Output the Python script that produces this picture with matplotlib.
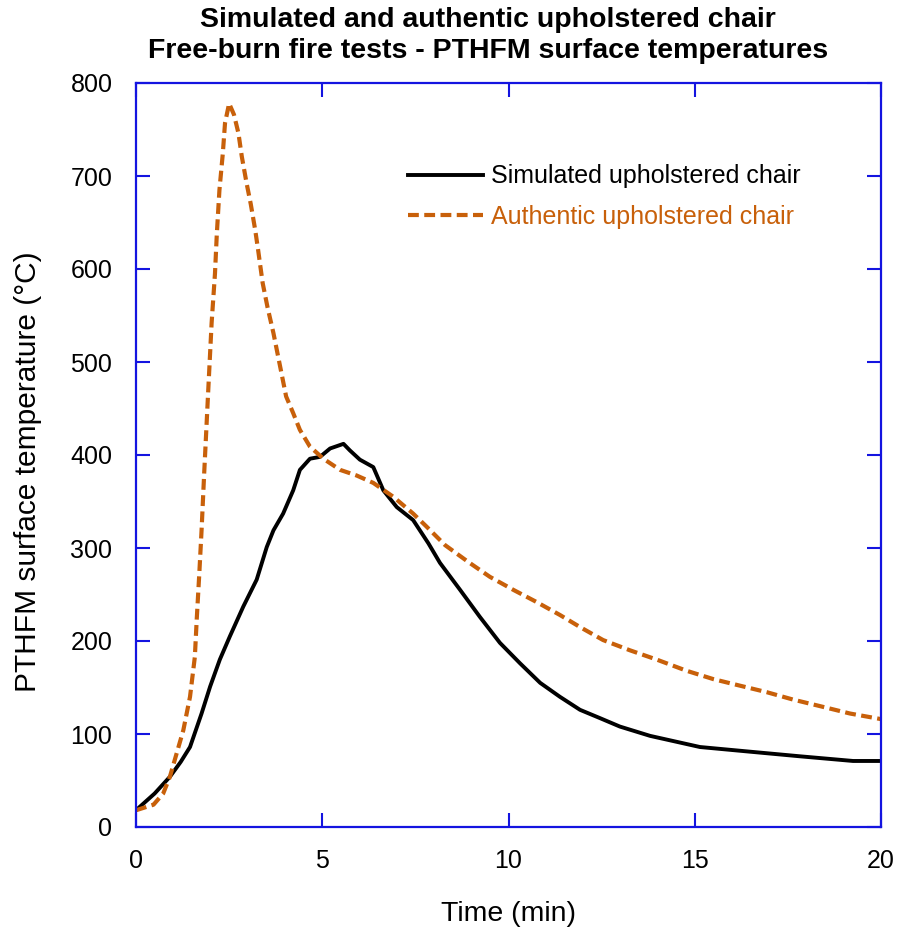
import matplotlib
matplotlib.use("Agg")
import matplotlib.pyplot as plt

plt.rcParams['font.family'] = ['Liberation Sans', 'DejaVu Sans']

# Simulated upholstered chair (black solid)
sim_t = [0.0, 0.11, 0.5, 0.91, 1.2, 1.45, 1.76, 1.99, 2.25, 2.52, 2.88, 3.24, 3.51, 3.69,
         3.95, 4.22, 4.40, 4.67, 4.94, 5.21, 5.57, 5.74, 6.01, 6.37, 6.64, 7.0, 7.44,
         7.85, 8.16, 8.70, 9.23, 9.77, 10.31, 10.85, 11.38, 11.92, 12.46, 12.99, 13.8,
         15.14, 16.48, 17.83, 19.25, 20.0]
sim_T = [18, 22, 36, 54, 70, 86, 122, 151, 180, 205, 237, 266, 301, 319,
         337, 362, 384, 396, 398, 407, 412, 405, 395, 387, 362, 344, 330,
         305, 284, 255, 226, 198, 176, 155, 140, 126, 117, 108, 98,
         86, 81, 76, 71, 71]

# Authentic upholstered chair (orange dashed)
auth_t = [0.0, 0.47, 0.73, 0.91, 1.09, 1.27, 1.45, 1.58, 1.63, 1.70, 1.76, 1.83, 1.94,
          2.03, 2.12, 2.17, 2.24, 2.33, 2.39, 2.50, 2.63, 2.75, 2.84, 2.97, 3.08, 3.20,
          3.28, 3.40, 3.53, 3.69, 3.87, 4.03, 4.22, 4.40, 4.67, 5.03, 5.48, 5.92, 6.37,
          6.91, 7.44, 7.80, 8.30, 8.92, 9.50, 10.13, 10.75, 11.38, 11.92, 12.54, 13.26,
          13.98, 14.78, 15.50, 16.21, 16.93, 17.64, 18.36, 19.17, 20.0]
auth_T = [18, 24, 36, 54, 79, 104, 140, 183, 223, 273, 319, 380, 470,
          542, 595, 638, 685, 724, 757, 778, 766, 746, 721, 692, 670, 642,
          620, 585, 559, 531, 495, 463, 445, 427, 409, 396, 384, 378, 370,
          355, 337, 323, 303, 285, 269, 255, 242, 228, 215, 201, 190,
          180, 168, 159, 152, 145, 137, 130, 122, 116]

x_ticks = [0, 5, 10, 15, 20]
y_ticks = [0, 100, 200, 300, 400, 500, 600, 700, 800]

W, H = 897, 927
fig = plt.figure(figsize=(W / 100, H / 100), dpi=100)
ax = fig.add_axes([136 / W, 1 - 827 / H, (881 - 136) / W, (827 - 83) / H])

orange = '#c8600a'
ax.plot(sim_t, sim_T, color='black', lw=2.8, label='Simulated upholstered chair')
ax.plot(auth_t, auth_T, color=orange, lw=3.0, dashes=(2.6, 1.3),
        label='Authentic upholstered chair')

ax.set_xlim(0, 20)
ax.set_ylim(0, 800)
ax.set_xticks(x_ticks)
ax.set_yticks(y_ticks)

blue = '#1414e0'
for s in ax.spines.values():
    s.set_color(blue)
    s.set_linewidth(1.6)
ax.tick_params(direction='in', length=10, width=1.5, color=blue,
               top=True, right=True, labelsize=18)
ax.tick_params(axis='y', pad=17)
ax.tick_params(axis='x', pad=16)

ax.set_xlabel('Time (min)', fontsize=20.5, labelpad=20)
ax.set_ylabel('PTHFM surface temperature (°C)', fontsize=21.5)
ax.yaxis.set_label_coords((28 - 136) / 745, (827 - 472) / 744)
ax.yaxis.label.set_va('center')

fig.suptitle('Simulated and authentic upholstered chair\nFree-burn fire tests - PTHFM surface temperatures',
             x=488 / W, y=1 - 7 / H, fontsize=20.5, fontweight='bold', va='top',
             linespacing=1.26)

leg = ax.legend(loc='upper left', bbox_to_anchor=((400 - 136) / 745, (827 - 157) / 744),
                frameon=False, fontsize=18, handlelength=3.0, handletextpad=0.35,
                labelspacing=0.65, labelcolor='linecolor', borderaxespad=0, borderpad=0.3)

fig.savefig('out.png', dpi=100)
